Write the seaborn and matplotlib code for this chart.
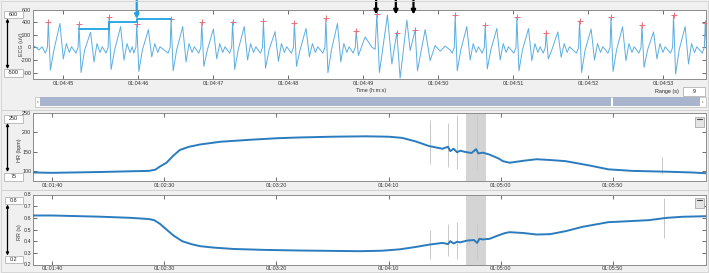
import numpy as np
import pandas as pd
import matplotlib
matplotlib.use("Agg")
import matplotlib.pyplot as plt
import seaborn as sns
from matplotlib.patches import Rectangle, FancyArrowPatch
from matplotlib.ticker import FuncFormatter, FixedLocator
from matplotlib.lines import Line2D

sns.set_theme(style="white")
plt.rcParams['font.family'] = ['Liberation Sans', 'DejaVu Sans']
plt.rcParams['axes.unicode_minus'] = False

# ---------------- data (times in seconds after 01:00:00) ----------------
ecg_window = [284.6, 293.57]
ecg_ylim = [-500, 600]
ecg_yticks = [-400, -200, 0, 200, 400, 600]
ecg_xticks = [285, 286, 287, 288, 289, 290, 291, 292, 293]

ecg_t = [
    284.55, 284.62, 284.68, 284.72,
    284.764, 284.792, 284.804, 284.832, 284.879, 284.959, 285.004, 285.044, 285.084, 285.114,
    285.173, 285.201, 285.213, 285.241, 285.288, 285.368, 285.413, 285.453, 285.493, 285.523,
    285.573, 285.601, 285.613, 285.641, 285.688, 285.768, 285.813, 285.853, 285.893, 285.923,
    285.943, 285.971, 285.983, 286.011, 286.058, 286.138, 286.183, 286.223, 286.263, 286.293,
    286.400, 286.428, 286.440, 286.468, 286.515, 286.595, 286.640, 286.680, 286.720, 286.750,
    286.809, 286.837, 286.849, 286.877, 286.924, 287.004, 287.049, 287.089, 287.129, 287.159,
    287.220, 287.248, 287.260, 287.288, 287.335, 287.415, 287.460, 287.500, 287.540, 287.570,
    287.631, 287.659, 287.671, 287.699, 287.746, 287.826, 287.871, 287.911, 287.951, 287.981,
    288.044, 288.072, 288.084, 288.112, 288.159, 288.239, 288.284, 288.324, 288.364, 288.394,
    288.463, 288.491, 288.503, 288.531, 288.578, 288.658, 288.703, 288.743, 288.783, 288.813,
    288.867, 288.895, 288.907, 288.937, 289.027, 289.116, 289.160, 289.183, 289.217, 289.324,
    289.383, 289.449, 289.493, 289.583, 289.627, 289.693, 289.724, 289.827, 289.893, 289.960,
    290.027, 290.093, 290.160,
    290.187, 290.215, 290.227, 290.255, 290.302, 290.382, 290.427, 290.467, 290.507, 290.537,
    290.587, 290.615, 290.627, 290.655, 290.702, 290.782, 290.827, 290.867, 290.907, 290.937,
    291.009, 291.037, 291.049, 291.077, 291.124, 291.204, 291.249, 291.289, 291.329, 291.359,
    291.400, 291.428, 291.440, 291.468, 291.515, 291.595, 291.640, 291.680, 291.720, 291.750,
    291.844, 291.872, 291.884, 291.912, 291.959, 292.039, 292.084, 292.124, 292.164, 292.194,
    292.263, 292.291, 292.303, 292.331, 292.378, 292.458, 292.503, 292.543, 292.583, 292.613,
    292.676, 292.704, 292.716, 292.744, 292.791, 292.871, 292.916, 292.956, 292.996, 293.026,
    293.097, 293.125, 293.137, 293.165, 293.212, 293.292, 293.337, 293.377, 293.417, 293.447,
    293.520, 293.548, 293.560, 293.588,
]
ecg_v = [
    -30, 20, -40, 10,
    -90, 0, 405, -358, -40, 379, -182, 60, -80, 10,
    -90, 0, 363, -397, -40, 240, -230, 60, -80, 10,
    -90, 0, 475, -350, -40, 330, -200, 60, -80, 10,
    -90, 0, 363, -380, -40, 280, -150, 60, -80, 10,
    -90, 0, 448, -370, -40, 330, -230, 60, -80, 10,
    -90, 0, 395, -300, -40, 290, -180, 60, -80, 10,
    -90, 0, 405, -350, -40, 330, -200, 60, -80, 10,
    -90, 0, 415, -330, -40, 250, -220, 60, -80, 10,
    -90, 0, 390, -300, -40, 300, -150, 60, -80, 10,
    -90, 0, 458, -400, -40, 379, -230, 60, -80, 10,
    -90, 0, 260, -129, 165, 4, -30, 523, -397, 512,
    -263, 235, -487, 432, -49, 271, -370, 282, -209, 30,
    -60, 20, -40,
    -90, 0, 512, -370, -40, 330, -200, 60, -80, 10,
    -90, 0, 352, -340, -40, 300, -200, 60, -80, 10,
    -90, 0, 475, -370, -40, 298, -209, 60, -80, 10,
    -90, 0, 234, -183, -40, 245, -156, 60, -80, 10,
    -90, 0, 420, -397, -40, 290, -200, 60, -80, 10,
    -90, 0, 475, -380, -40, 325, -209, 60, -80, 10,
    -90, 0, 352, -316, -40, 245, -180, 60, -80, 10,
    -90, 0, 512, -423, -40, 330, -263, 60, -80, 10,
    -90, 0, 380, -300,
]

peak_t = [284.804, 285.213, 285.613, 285.983, 286.440, 286.849, 287.260, 287.671,
          288.084, 288.503, 288.907, 289.183, 289.449, 289.693, 290.227, 290.627,
          291.049, 291.440, 291.884, 292.303, 292.716, 293.137, 293.560]
peak_v = [405, 363, 475, 363, 448, 395, 405, 415, 390, 458, 260, 523, 235, 271,
          512, 352, 475, 234, 420, 475, 352, 512, 380]

step_t = [285.213, 285.613, 285.983, 286.440]
step_v = [290, 405, 450, 450]
cyan_arrow_t = 285.983
black_arrow_t = [289.173, 289.436, 289.671]

trend_xlim = [91.5, 391.5]
trend_xticks = [100, 150, 200, 250, 300, 350]

hr_ylim = [75, 250]
hr_yticks = [100, 150, 200, 250]
hr_t = [91.5, 100, 120, 135, 143, 146, 148, 151, 154, 157, 161, 166, 175, 188, 200, 210,
        225, 240, 250, 256, 262, 268, 274, 276.5, 277.5, 279, 280.5, 282, 284, 287, 289,
        290, 292, 295, 299, 301, 304, 310, 316, 322, 329, 339.5, 348, 358.7, 373.8, 385, 391.5]
hr_v = [97, 96, 98, 100, 101, 104, 112, 122, 140, 155, 163, 169, 176, 181, 185, 187,
        189, 190, 189, 186, 177, 165, 158, 163, 152, 158, 149, 153, 150, 147, 157,
        146, 148, 143, 133, 126, 122, 127, 131, 129, 126, 115, 105, 101, 99, 97, 95]
hr_art_t = [268.3, 276.3, 280.3, 289.2, 372.0]
hr_art_lo = [118, 110, 105, 105, 93]
hr_art_hi = [232, 225, 245, 245, 138]

rr_ylim = [0.2, 0.8]
rr_yticks = [0.2, 0.3, 0.4, 0.5, 0.6, 0.7, 0.8]
rr_t = [91.5, 100, 121, 135, 143, 145.5, 148, 151, 154, 158, 162, 166, 172, 181, 195, 210,
        237, 247, 255, 262, 268, 274, 276.5, 277.5, 279, 280.5, 282, 285, 288, 289.5, 290.5,
        292, 295, 299, 302, 304, 310, 316, 322, 329, 336.5, 348, 351.6, 366, 374, 381, 391.5]
rr_v = [0.62, 0.62, 0.61, 0.60, 0.59, 0.58, 0.55, 0.50, 0.45, 0.40, 0.375, 0.357, 0.345,
        0.333, 0.325, 0.32, 0.314, 0.318, 0.33, 0.35, 0.37, 0.385, 0.375, 0.40, 0.38,
        0.395, 0.39, 0.405, 0.41, 0.385, 0.42, 0.415, 0.42, 0.45, 0.47, 0.477, 0.47,
        0.457, 0.46, 0.486, 0.523, 0.563, 0.566, 0.58, 0.60, 0.609, 0.614]
rr_art_t = [268.3, 276.3, 280.4, 285.9, 289.6, 372.8]
rr_art_lo = [0.249, 0.269, 0.243, 0.38, 0.243, 0.423]
rr_art_hi = [0.50, 0.543, 0.563, 0.43, 0.543, 0.774]

range_s = 9

# ---------------- figure ----------------
W, H = 709, 273
BG = '#f0f0f0'
fig = plt.figure(figsize=(W / 100, H / 100), dpi=100, facecolor=BG)
FS = 3.9
TXT = '#333333'


def ax_px(l, t, r, b):
    ax = fig.add_axes([l / W, 1 - b / H, (r - l) / W, (b - t) / H])
    ax.set_facecolor('white')
    for s in ax.spines.values():
        s.set_color('#8c8c8c')
        s.set_linewidth(0.7)
    return ax


def hms(s, pos=None):
    s = int(round(s))
    return f"{1 + s // 3600:02d}:{(s % 3600) // 60:02d}:{s % 60:02d}"


def style(ax, xticks, yticks, ylim, xlim, yfmt):
    ax.set_xlim(*xlim)
    ax.set_ylim(*ylim)
    ax.xaxis.set_major_locator(FixedLocator(xticks))
    ax.xaxis.set_major_formatter(FuncFormatter(hms))
    ax.yaxis.set_major_locator(FixedLocator(yticks))
    ax.yaxis.set_major_formatter(FuncFormatter(yfmt))
    ax.tick_params(direction='in', length=3.2, width=0.6, color='#555555',
                   labelsize=FS, labelcolor=TXT, top=True, right=True,
                   bottom=True, left=True, pad=1.2)
    ax.set_xlabel('')
    ax.set_ylabel('')


def px_rect(x0, y0, x1, y1, **kw):
    r = Rectangle((x0 / W, 1 - y1 / H), (x1 - x0) / W, (y1 - y0) / H,
                  transform=fig.transFigure, **kw)
    fig.add_artist(r)
    return r


def value_box(x0, y0, x1, y1, text):
    px_rect(x0, y0, x1, y1, facecolor='white', edgecolor='#b4b4b4', lw=0.6)
    fig.text((x0 + x1) / 2 / W, 1 - (y0 + y1) / 2 / H, text, ha='center',
             va='center', fontsize=FS, color='#222222')


def dbl_arrow(x, y0, y1):
    fig.add_artist(FancyArrowPatch((x / W, 1 - y0 / H), (x / W, 1 - y1 / H),
                                   transform=fig.transFigure, arrowstyle='<|-|>',
                                   mutation_scale=4, color='black', lw=0.9,
                                   shrinkA=0, shrinkB=0))


def icon(x0, y0, x1, y1):
    px_rect(x0, y0, x1, y1, facecolor='#e4e4e4', edgecolor='#9a9a9a', lw=0.5)
    fig.add_artist(Line2D([(x0 + 2) / W, (x1 - 2) / W], [1 - (y0 + 2.2) / H] * 2,
                          transform=fig.transFigure, color='#444444', lw=0.8))


# panel frames
px_rect(1, 1, 708, 110, facecolor='none', edgecolor='#d2d2d2', lw=0.6)
px_rect(1, 110, 708, 190, facecolor='none', edgecolor='#d2d2d2', lw=0.6)
px_rect(1, 190, 708, 272, facecolor='none', edgecolor='#d2d2d2', lw=0.6)

# ---------------- ECG ----------------
ax1 = ax_px(33, 9.5, 706, 79)
ecg_df = pd.DataFrame({'t': ecg_t, 'v': ecg_v})
sns.lineplot(data=ecg_df, x='t', y='v', ax=ax1, color='#5aaee2', linewidth=0.7,
             estimator=None, sort=False)
peak_df = pd.DataFrame({'t': peak_t, 'v': peak_v})
sns.scatterplot(data=peak_df, x='t', y='v', ax=ax1, marker='+', color='#e8707a',
                s=14, linewidth=0.7, zorder=4)
ax1.step(step_t, step_v, where='post', color='#1ea3e3', lw=1.3, zorder=5)
style(ax1, ecg_xticks, ecg_yticks, ecg_ylim, ecg_window, lambda v, p: f"{int(v)}")
ax1.annotate('', xy=(cyan_arrow_t, 450), xycoords='data',
             xytext=(cyan_arrow_t, 1.137), textcoords=('data', 'axes fraction'),
             arrowprops=dict(arrowstyle='-|>', color='#1ea3e3', lw=1.6,
                             mutation_scale=6, shrinkA=0, shrinkB=0),
             annotation_clip=False)
for t in black_arrow_t:
    ax1.annotate('', xy=(t, 520), xycoords='data',
                 xytext=(t, 1.137), textcoords=('data', 'axes fraction'),
                 arrowprops=dict(arrowstyle='-|>', color='black', lw=1.6,
                                 mutation_scale=6, shrinkA=0, shrinkB=0),
                 annotation_clip=False)
fig.text(371 / W, 1 - 90.5 / H, 'Time (h:m:s)', ha='center', va='center',
         fontsize=FS, color=TXT)
fig.text(21 / W, 1 - 44 / H, 'ECG (uV)', rotation=90, ha='center', va='center',
         fontsize=FS, color=TXT)
value_box(4, 10.7, 22.7, 18.3, str(ecg_ylim[1]))
value_box(4, 69.3, 22.7, 76.7, str(ecg_ylim[0]))
dbl_arrow(7.5, 18.5, 69)

# scrollbar + range
px_rect(35, 96.7, 706, 106.7, facecolor='white', edgecolor='#b8b8b8', lw=0.5)
px_rect(40, 97.3, 610.5, 106.1, facecolor='#a9b5cc', edgecolor='none')
px_rect(613, 97.3, 700, 106.1, facecolor='#a9b5cc', edgecolor='none')
fig.text(37.5 / W, 1 - 101.7 / H, '‹', ha='center', va='center', fontsize=3.5, color='#444')
fig.text(703 / W, 1 - 101.7 / H, '›', ha='center', va='center', fontsize=3.5, color='#444')
fig.text(666.5 / W, 1 - 91.5 / H, 'Range (s)', ha='center', va='center',
         fontsize=FS, color='#222222')
value_box(682.7, 87.3, 705, 95.7, str(range_s))

# ---------------- HR ----------------
ax2 = ax_px(33, 113, 706, 181)
ax2.axvspan(ecg_window[0], ecg_window[1], color='#d4d4d4', zorder=0, lw=0)
ax2.vlines(hr_art_t, hr_art_lo, hr_art_hi, color='#c8c8c8', lw=0.7, zorder=1)
hr_df = pd.DataFrame({'t': hr_t, 'v': hr_v})
sns.lineplot(data=hr_df, x='t', y='v', ax=ax2, color='#2b7bbf', linewidth=1.4,
             estimator=None, sort=False, zorder=3)
style(ax2, trend_xticks, hr_yticks, hr_ylim, trend_xlim, lambda v, p: f"{int(v)}")
fig.text(19 / W, 1 - 150 / H, 'HR (bpm)', rotation=90, ha='center', va='center',
         fontsize=FS, color=TXT)
value_box(4, 115, 22.7, 122.7, str(hr_ylim[1]))
value_box(4, 172.5, 22.7, 180.5, str(hr_ylim[0]))
dbl_arrow(7.5, 123, 172)
icon(695, 117, 704, 127)

# ---------------- RR ----------------
ax3 = ax_px(33, 194.5, 706, 264.5)
ax3.axvspan(ecg_window[0], ecg_window[1], color='#d4d4d4', zorder=0, lw=0)
ax3.vlines(rr_art_t, rr_art_lo, rr_art_hi, color='#c8c8c8', lw=0.7, zorder=1)
rr_df = pd.DataFrame({'t': rr_t, 'v': rr_v})
sns.lineplot(data=rr_df, x='t', y='v', ax=ax3, color='#2b7bbf', linewidth=1.4,
             estimator=None, sort=False, zorder=3)
style(ax3, trend_xticks, rr_yticks, rr_ylim, trend_xlim, lambda v, p: f"{v:.1f}")
fig.text(19 / W, 1 - 232 / H, 'RR (s)', rotation=90, ha='center', va='center',
         fontsize=FS, color=TXT)
value_box(5, 196.7, 22.7, 204.3, f"{rr_ylim[1]:.1f}")
value_box(5, 255.7, 22.7, 263.3, f"{rr_ylim[0]:.1f}")
dbl_arrow(7.5, 204.5, 255.5)
icon(695, 198, 704, 208)

fig.savefig('out.png', dpi=100, facecolor=BG)
